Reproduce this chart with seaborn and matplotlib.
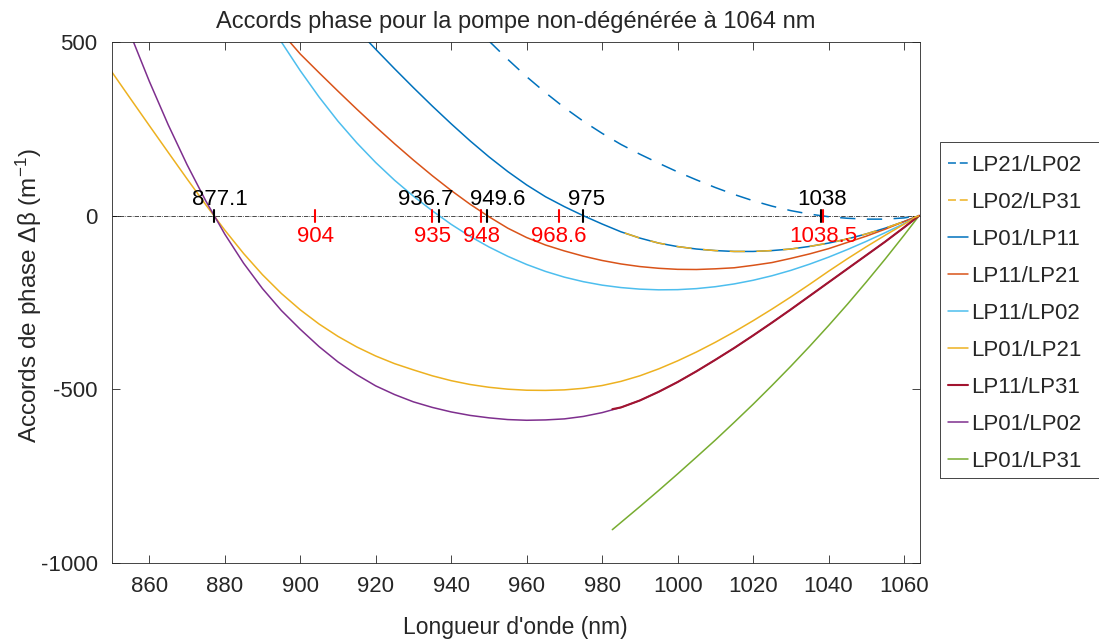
import matplotlib
matplotlib.use("Agg")
import matplotlib.pyplot as plt
from matplotlib.patches import Rectangle
import seaborn as sns

# ---- data ----
# LP21/LP02 (dashed)
x_lp21_lp02 = [950, 955, 960, 965, 970, 975, 980, 985, 990, 995, 1000, 1005, 1010, 1015, 1020, 1025, 1030, 1035, 1038, 1040, 1045, 1050, 1055, 1060, 1064]
y_lp21_lp02 = [503, 450, 400, 354, 311, 272, 237, 205, 177, 151, 126, 103, 81, 61, 43, 27.5, 14.5, 4.5, 0, -3, -7.5, -10, -10, -6.5, 0]

# LP02/LP31 (dashed, lies on LP01/LP11)
x_lp02_lp31 = [986, 990, 995, 1000, 1005, 1010, 1015, 1020, 1025, 1030, 1035, 1040, 1045, 1050, 1055, 1060, 1064]
y_lp02_lp31 = [-50, -64.5, -79, -89, -96, -100.5, -103, -103, -100.5, -96, -88.5, -79, -67, -52.5, -36, -17, 0]

# LP01/LP11
x_lp01_lp11 = [918, 920, 925, 930, 935, 940, 945, 950, 955, 960, 965, 970, 975, 980, 985, 990, 995, 1000, 1005, 1010, 1015, 1020, 1025, 1030, 1035, 1040, 1045, 1050, 1055, 1060, 1064]
y_lp01_lp11 = [502, 479, 423, 368.5, 315.5, 264.5, 215.5, 169.5, 127, 88.5, 54.5, 26, 0, -24, -46.5, -64.5, -79, -89, -96, -100.5, -103, -103, -100.5, -96, -88.5, -79, -67, -52.5, -36, -17, 0]

# LP11/LP21
x_lp11_lp21 = [897, 900, 905, 910, 915, 920, 925, 930, 935, 940, 945, 950, 955, 960, 965, 970, 975, 980, 985, 990, 995, 1000, 1005, 1010, 1015, 1020, 1025, 1030, 1035, 1040, 1045, 1050, 1055, 1060, 1064]
y_lp11_lp21 = [503, 465.5, 411.5, 358.5, 306.5, 256, 207, 160, 115, 72.5, 33, -3, -36, -63, -84.5, -101.5, -116.5, -129, -139, -146.5, -151.5, -154.5, -155, -153, -150, -143, -135, -123, -110, -95, -77, -59, -39, -17, 0]

# LP11/LP02
x_lp11_lp02 = [894, 895, 900, 905, 910, 915, 920, 925, 930, 935, 940, 945, 950, 955, 960, 965, 970, 975, 980, 985, 990, 995, 1000, 1005, 1010, 1015, 1020, 1025, 1030, 1035, 1040, 1045, 1050, 1055, 1060, 1064]
y_lp11_lp02 = [517, 500, 417.5, 341.5, 272, 209.5, 153, 102, 56, 14, -25, -59.5, -90, -117, -140.5, -160.5, -177, -190, -200, -207, -211.5, -213.5, -213, -210, -204.5, -196.5, -186, -173, -157.5, -139.5, -119.5, -97.5, -74, -49, -23, 0]

# LP01/LP21
x_lp01_lp21 = [850, 855, 860, 865, 870, 875, 880, 885, 890, 895, 900, 905, 910, 915, 920, 925, 930, 935, 940, 945, 950, 955, 960, 965, 970, 975, 980, 985, 990, 995, 1000, 1005, 1010, 1015, 1020, 1025, 1030, 1035, 1040, 1045, 1050, 1055, 1060, 1064]
y_lp01_lp21 = [415, 337, 259.5, 182.5, 106, 31, -41.5, -109, -170, -224, -271, -312, -347.5, -378, -404, -426, -444, -461, -475, -486, -494, -499.5, -502.5, -503, -501.5, -497, -489, -477, -461, -441, -418, -392.5, -364.5, -334.5, -302.5, -269, -234, -197.5, -160, -124, -89.5, -56.5, -24.5, 0]

# LP11/LP31
x_lp11_lp31 = [982.7, 985, 990, 995, 1000, 1005, 1010, 1015, 1020, 1025, 1030, 1035, 1040, 1045, 1050, 1055, 1060, 1064]
y_lp11_lp31 = [-557, -552, -532, -507, -479, -448, -415, -381, -345, -308, -270, -231, -192, -153, -114, -75, -34, 0]

# LP01/LP02
x_lp01_lp02 = [855, 860, 865, 870, 875, 880, 885, 890, 895, 900, 905, 910, 915, 920, 925, 930, 935, 940, 945, 950, 955, 960, 965, 970, 975, 980, 985, 990, 995, 1000, 1005, 1010, 1015, 1020, 1025, 1030, 1035, 1040, 1045, 1050, 1055, 1060, 1064]
y_lp01_lp02 = [522, 387, 262, 147, 42, -53, -137, -210, -273, -327, -377, -421, -458, -490, -515, -536, -552, -565, -575, -582, -587, -589, -588, -585, -578, -567, -552, -532, -507, -479, -448, -415, -381, -345, -308, -270, -231, -192, -153, -114, -75, -34, 0]

# LP01/LP31
x_lp01_lp31 = [982.7, 990, 995, 1000, 1005, 1010, 1015, 1020, 1025, 1030, 1035, 1040, 1045, 1050, 1055, 1060, 1064]
y_lp01_lp31 = [-904, -837.5, -791, -743.5, -695, -646, -595, -543, -489, -433.5, -376, -316.5, -255, -191, -125, -56.5, 0]

# computed phase-matching wavelengths (black) and measured ones (red)
calc_wl = [877.1, 936.7, 949.6, 975, 1038]
calc_labels = ["877.1", "936.7", "949.6", "975", "1038"]
meas_wl = [904, 935, 948, 968.6, 1038.5]
meas_labels = ["904", "935", "948", "968.6", "1038.5"]

dash = (0, (10, 7.5))
series = [
    ("LP21/LP02", x_lp21_lp02, y_lp21_lp02, "#0072BD", dash, 2),
    ("LP02/LP31", x_lp02_lp31, y_lp02_lp31, "#EDB120", dash, 4),
    ("LP01/LP11", x_lp01_lp11, y_lp01_lp11, "#0072BD", "-", 2),
    ("LP11/LP21", x_lp11_lp21, y_lp11_lp21, "#D95319", "-", 2),
    ("LP11/LP02", x_lp11_lp02, y_lp11_lp02, "#4DBEEE", "-", 2),
    ("LP01/LP21", x_lp01_lp21, y_lp01_lp21, "#EDB120", "-", 2),
    ("LP11/LP31", x_lp11_lp31, y_lp11_lp31, "#A2142F", "-", 3),
    ("LP01/LP02", x_lp01_lp02, y_lp01_lp02, "#7E2F8E", "-", 2),
    ("LP01/LP31", x_lp01_lp31, y_lp01_lp31, "#77AC30", "-", 2),
]

sns.set_theme(style="ticks")
plt.rcParams["font.family"] = ["Liberation Sans", "DejaVu Sans"]
plt.rcParams["axes.unicode_minus"] = False
plt.rcParams["mathtext.default"] = "regular"
plt.rcParams["xtick.direction"] = "in"
plt.rcParams["ytick.direction"] = "in"
plt.rcParams["xtick.top"] = True
plt.rcParams["ytick.right"] = True

fig = plt.figure(figsize=(10.99, 6.42), dpi=100)
ax = fig.add_axes([0.1015, 0.123, 0.7355, 0.8116])

for name, xs, ys, col, ls, z in series:
    lw = 1.5 if name == "LP11/LP31" else 1.1
    sns.lineplot(x=xs, y=ys, ax=ax, color=col, linestyle=ls, linewidth=lw,
                 label=name, sort=False, estimator=None, zorder=z)

# zero line
ax.axhline(0, color="black", linestyle="-.", linewidth=0.5, zorder=1)

# markers + labels
calc_text_x = [878.8, 933.2, 952.4, 975.8, 1038.4]
for wl, lab, tx in zip(calc_wl, calc_labels, calc_text_x):
    ax.plot([wl, wl], [-17, 17], color="black", linewidth=1.5, zorder=5)
    ax.text(tx, 32, lab, ha="center", va="baseline", fontsize=16, color="black", zorder=6)
for wl, lab in zip(meas_wl, meas_labels):
    ax.plot([wl, wl], [-17, 17], color="red", linewidth=1.5, zorder=5)
    ax.text(wl, -77, lab, ha="center", va="baseline", fontsize=16, color="red", zorder=6)

ax.set_xlim(850, 1064.2)
ax.set_ylim(-1000, 500)
ax.set_xticks(range(860, 1061, 20))
ax.set_yticks([-1000, -500, 0, 500])
ax.tick_params(labelsize=16, length=6, width=0.6, color="#262626")
ax.tick_params(axis="x", pad=9)
ax.tick_params(axis="y", pad=10)
for s in ax.spines.values():
    s.set_linewidth(0.6)
    s.set_color("#262626")

ax.set_title("Accords phase pour la pompe non-dégénérée à 1064 nm", fontsize=17, pad=10)
ax.set_xlabel("Longueur d'onde (nm)", fontsize=16.5, labelpad=14)
ax.set_ylabel("Accords de phase Δβ (m$^{-1}$)", fontsize=17.5)
ax.yaxis.set_label_coords(-0.083, 0.514)

# legend (frame drawn separately so it runs off the right edge like the original)
leg = ax.legend(loc="upper left", bbox_to_anchor=(935 / 1099, 1 - 141.7 / 642),
                bbox_transform=fig.transFigure, fontsize=16, frameon=False,
                handlelength=0.9, handletextpad=0.15,
                labelspacing=0.72, borderpad=0.58, borderaxespad=0)
for ln in leg.get_lines()[:2]:
    ln.set_linestyle((0, (5.2, 2.5)))
fig.patches.append(Rectangle((940 / 1099, 1 - 478 / 642), 200 / 1099, (478 - 141.7) / 642,
                             transform=fig.transFigure, fill=False,
                             edgecolor="#262626", linewidth=0.6))

fig.savefig("out.png", dpi=100)
